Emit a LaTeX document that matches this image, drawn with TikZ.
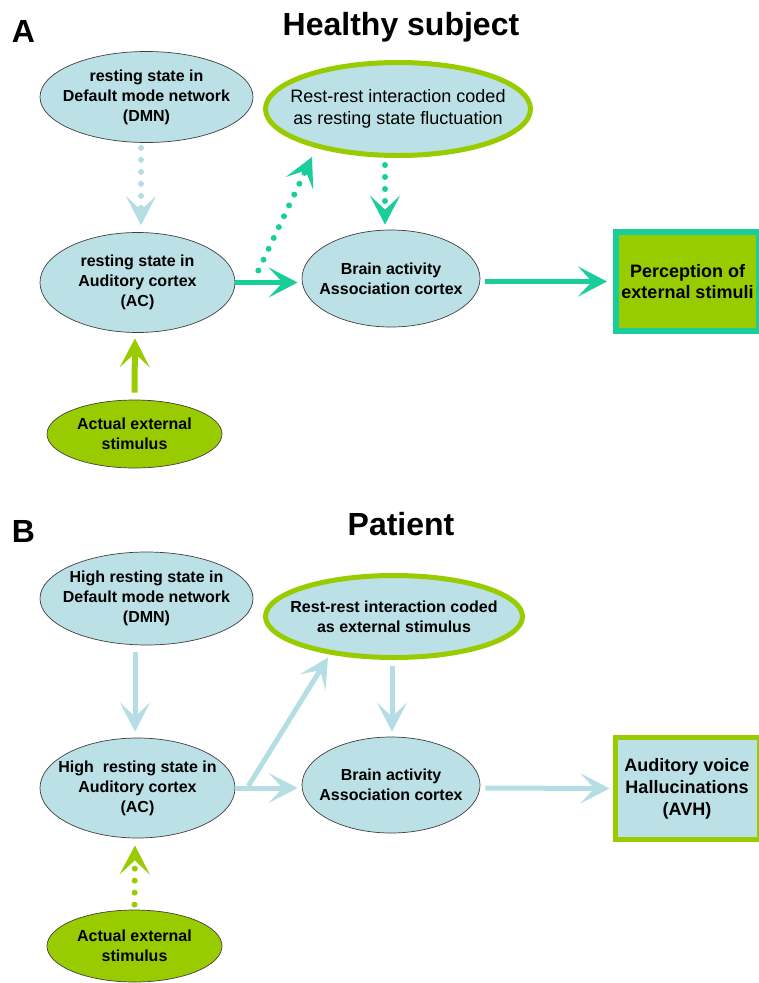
\documentclass[tikz,border=0pt]{standalone}
\usepackage{fontspec}
\setmainfont{Liberation Sans}
\usepackage{tikz}
\usetikzlibrary{shapes,shapes.geometric}
\usetikzlibrary{arrows.meta}
\usetikzlibrary{calc}
\definecolor{restblue}{RGB}{187,224,229}
\definecolor{arrowblue}{RGB}{180,222,228}
\definecolor{brightteal}{RGB}{26,206,156}
\definecolor{leafgreen}{RGB}{153,204,0}
\tikzset{
	stateoval/.style={ellipse, draw=black!75, line width=0.7pt, fill=restblue, inner sep=-30pt, align=center, font=\bfseries\fontsize{16}{20}\selectfont},
	restoval/.style={stateoval, draw=leafgreen, line width=5pt},
	stimoval/.style={stateoval, fill=leafgreen},
	outbox/.style={rectangle, line width=6pt, inner sep=0pt, align=center, font=\bfseries\fontsize{18}{21}\selectfont},
	flow/.style={line width=5pt, -{Stealth[length=29pt, width=30pt, inset=14pt]}},
	dots/.style={flow, line width=6pt, line cap=round, dash pattern=on 0pt off 12pt},
	panellabel/.style={anchor=base, font=\bfseries\fontsize{32}{36}\selectfont}
}

\begin{document}
\begin{tikzpicture}[x=1pt, y=-1pt]
		\useasboundingbox (0,0) rectangle (759,983);
		\clip (0,0) rectangle (759,983);
		% A: healthy subject
		\node[panellabel] (labA) at (23.5,42) {A};
		\node[panellabel] (titleA) at (401,35) {Healthy subject};
		\node[stateoval, minimum width=213pt, minimum height=91pt] (dmnA) at (146.5,97) {resting state in\\Default mode network\\(DMN)};
		\node[restoval, font=\fontsize{18}{22}\selectfont, minimum width=265pt, minimum height=93pt] (restA) at (398,109) {Rest-rest interaction coded\\as resting state fluctuation};
		\node[stateoval, minimum width=195pt, minimum height=100pt] (acA) at (137.5,282.5) {resting state in\\Auditory cortex\\(AC)};
		\node[stateoval, minimum width=178pt, minimum height=97pt] (brainA) at (391,278.5) {Brain activity\\Association cortex};
		\node[outbox, draw=brightteal, fill=leafgreen, minimum width=143pt, minimum height=99pt] (percA) at (687.5,281.5) {Perception of\\external stimuli};
		\node[stimoval, minimum width=175pt, minimum height=68pt] (stimA) at (134.5,434) {Actual external\\stimulus};
		\coordinate (forkA) at ($(acA.east)+(23,-12)$);
		
		\draw[dots, arrowblue] ($(dmnA.south)+(-5.5,5)$) -- ($(acA.north)+(3.5,-7)$);
		\draw[flow, brightteal, shorten >=4pt] (acA.east) -- (acA.east -| brainA.west);
		\draw[dots, brightteal] (forkA) -- ($(restA.center)+(-86,48)$);
		\draw[dots, brightteal] ($(restA.south)+(-13,7)$) -- ($(brainA.north)+(-6,-5)$);
		\draw[flow, brightteal] ($(brainA.east)+(5,3)$) -- ($(percA.west)+(-6,0)$);
		\draw[flow, leafgreen, line width=6pt] ($(stimA.north)+(0,-7)$) -- ($(acA.south)+(-2.5,5.5)$);
		
		% B: patient
		\node[panellabel] (labB) at (23.5,542) {B};
		\node[panellabel] (titleB) at (401,535) {Patient};
		\node[stateoval, minimum width=213pt, minimum height=93pt] (dmnB) at (146.5,598.5) {High resting state in\\Default mode network\\(DMN)};
		\node[restoval, minimum width=257pt, minimum height=82pt] (restB) at (394,616.5) {Rest-rest interaction coded\\as external stimulus};
		\node[stateoval, minimum width=195pt, minimum height=100pt] (acB) at (137.5,788) {High\ \ resting state in\\Auditory cortex\\(AC)};
		\node[stateoval, minimum width=178pt, minimum height=96pt] (brainB) at (391,785) {Brain activity\\Association cortex};
		\node[outbox, draw=leafgreen, fill=restblue, line width=5pt, font=\bfseries\fontsize{18}{22}\selectfont, minimum width=144pt, minimum height=102pt] (avhB) at (687,788.5) {Auditory voice\\Hallucinations\\(AVH)};
		\node[stimoval, minimum width=175pt, minimum height=72pt] (stimB) at (134.5,946) {Actual external\\stimulus};
		\coordinate (forkB) at ($(acB.east)+(13,-2)$);
		
		\draw[flow, arrowblue] ($(dmnB.south)+(-11.5,7)$) -- ($(acB.north)+(-2.5,-6)$);
		\draw[flow, arrowblue, shorten >=4pt] (acB.east) -- (acB.east -| brainB.west);
		\draw[flow, arrowblue] (forkB) -- ($(restB.center)+(-66,41)$);
		\draw[flow, arrowblue] ($(restB.south)+(-2,6)$) -- ($(brainB.north)+(1,-5)$);
		\draw[flow, arrowblue] ($(brainB.east)+(5,3)$) -- ($(avhB.west)+(-3,0)$);
		\draw[dots, leafgreen] ($(stimB.north)+(0,-5)$) -- ($(acB.south)+(-2.5,7)$);
\end{tikzpicture}
\end{document}
